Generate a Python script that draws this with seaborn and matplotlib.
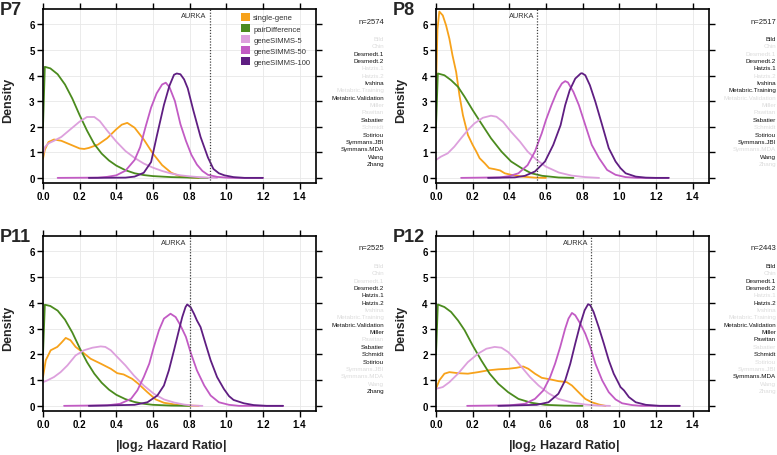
"""
Density of |log2 HR| per method, four panels (P7, P8, P11, P12)
"""
import pandas as pd
import matplotlib
matplotlib.use('Agg')
import matplotlib.pyplot as plt
import seaborn as sns
from matplotlib.patches import Patch

methods = ['single-gene', 'pairDifference', 'geneSIMMS-5', 'geneSIMMS-50', 'geneSIMMS-100']
method_colors = ['#F7A21B', '#4B8B1E', '#DDA0DD', '#C25BC4', '#5F1E82']

datasets = ['Bild', 'Chin', 'Desmedt.1', 'Desmedt.2', 'Hatzis.1', 'Hatzis.2', 'Ivshina',
            'Metabric.Training', 'Metabric.Validation', 'Miller', 'Pawitan', 'Sabatier',
            'Schmidt', 'Sotiriou', 'Symmans.JBI', 'Symmans.MDA', 'Wang', 'Zhang']

# --- P7 ---
p7_single = [(0, 0.75), (0.01, 1.1), (0.03, 1.4), (0.06, 1.5), (0.1, 1.45), (0.15, 1.3), (0.2, 1.15),
             (0.225, 1.13), (0.25, 1.17), (0.3, 1.3), (0.35, 1.55), (0.4, 1.9), (0.43, 2.08), (0.46, 2.15),
             (0.5, 1.96), (0.55, 1.5), (0.6, 0.95), (0.65, 0.5), (0.7, 0.2), (0.75, 0.06), (0.8, 0.02), (0.85, 0.0)]
p7_pair = [(0, 2.0), (0.01, 4.34), (0.04, 4.28), (0.08, 4.05), (0.12, 3.65), (0.16, 3.1), (0.2, 2.45),
           (0.24, 1.85), (0.28, 1.32), (0.32, 0.95), (0.36, 0.68), (0.4, 0.48), (0.45, 0.3), (0.5, 0.18),
           (0.55, 0.11), (0.6, 0.07), (0.7, 0.03), (0.8, 0.012), (0.9, 0.0)]
p7_simms5 = [(0, 0.9), (0.01, 1.2), (0.03, 1.35), (0.06, 1.45), (0.1, 1.6), (0.15, 1.9), (0.2, 2.2),
             (0.24, 2.38), (0.28, 2.38), (0.31, 2.22), (0.35, 1.85), (0.4, 1.42), (0.45, 1.05), (0.5, 0.78),
             (0.55, 0.56), (0.6, 0.4), (0.65, 0.27), (0.7, 0.17), (0.75, 0.1), (0.8, 0.06), (0.85, 0.03),
             (0.9, 0.01), (0.95, 0.0)]
p7_simms50 = [(0.08, 0), (0.3, 0.01), (0.35, 0.04), (0.4, 0.1), (0.45, 0.28), (0.5, 0.7), (0.53, 1.2),
              (0.56, 2.0), (0.59, 2.75), (0.62, 3.3), (0.65, 3.65), (0.67, 3.72), (0.69, 3.55), (0.72, 3.0),
              (0.75, 2.1), (0.78, 1.45), (0.81, 0.9), (0.84, 0.52), (0.87, 0.27), (0.9, 0.12), (0.95, 0.04),
              (1.0, 0.01), (1.05, 0), (1.2, 0.0)]
p7_simms100 = [(0.25, 0), (0.45, 0.01), (0.5, 0.05), (0.55, 0.2), (0.59, 0.62), (0.62, 1.6), (0.66, 2.85),
               (0.69, 3.6), (0.715, 4.03), (0.73, 4.08), (0.75, 4.05), (0.77, 3.85), (0.79, 3.5), (0.82, 2.65),
               (0.86, 1.6), (0.9, 0.8), (0.93, 0.35), (0.96, 0.18), (0.99, 0.1), (1.04, 0.03), (1.1, 0.0),
               (1.2, 0.0)]

# --- P8 ---
p8_single = [(0, 3.5), (0.008, 5.8), (0.018, 6.5), (0.037, 6.35), (0.055, 5.96), (0.073, 5.44), (0.09, 4.79),
             (0.11, 4.14), (0.128, 3.23), (0.147, 2.45), (0.174, 1.68), (0.2, 1.29), (0.22, 1.03), (0.238, 0.77),
             (0.266, 0.57), (0.29, 0.38), (0.32, 0.34), (0.35, 0.29), (0.375, 0.18), (0.41, 0.12), (0.47, 0.05),
             (0.54, 0.01), (0.6, 0.0)]
p8_pair = [(0, 2.0), (0.01, 4.08), (0.046, 4.01), (0.082, 3.82), (0.12, 3.56), (0.156, 3.17), (0.2, 2.65),
           (0.247, 2.13), (0.3, 1.55), (0.357, 1.03), (0.41, 0.64), (0.467, 0.38), (0.52, 0.18), (0.58, 0.08),
           (0.67, 0.015), (0.75, 0.0)]
p8_simms5 = [(0, 0.7), (0.027, 0.83), (0.064, 0.96), (0.1, 1.22), (0.137, 1.55), (0.174, 1.87), (0.21, 2.13),
             (0.256, 2.35), (0.3, 2.43), (0.33, 2.39), (0.366, 2.19), (0.41, 1.8), (0.458, 1.42), (0.5, 1.03),
             (0.55, 0.7), (0.6, 0.44), (0.67, 0.21), (0.74, 0.09), (0.815, 0.03), (0.89, 0.0)]
p8_simms50 = [(0.137, 0), (0.35, 0.02), (0.4, 0.07), (0.45, 0.18), (0.5, 0.5), (0.54, 1.03), (0.56, 1.42),
              (0.577, 1.74), (0.6, 2.26), (0.63, 2.84), (0.66, 3.36), (0.687, 3.69), (0.705, 3.78), (0.72, 3.73),
              (0.75, 3.36), (0.78, 2.84), (0.815, 2.06), (0.85, 1.29), (0.89, 0.77), (0.934, 0.31), (0.98, 0.12),
              (1.035, 0.03), (1.1, 0), (1.27, 0)]
p8_simms100 = [(0.284, 0), (0.43, 0.02), (0.485, 0.08), (0.54, 0.25), (0.595, 0.64), (0.64, 1.29), (0.68, 2.06),
               (0.705, 2.84), (0.73, 3.43), (0.76, 3.88), (0.79, 4.08), (0.797, 4.09), (0.815, 4.01), (0.84, 3.62),
               (0.87, 2.97), (0.907, 2.06), (0.943, 1.16), (0.98, 0.64), (1.007, 0.38), (1.035, 0.18),
               (1.09, 0.05), (1.145, 0.01), (1.2, 0), (1.27, 0)]

# --- P11 ---
p11_single = [(0, 1.12), (0.015, 1.77), (0.042, 2.16), (0.078, 2.29), (0.1, 2.45), (0.124, 2.64), (0.15, 2.55),
              (0.178, 2.29), (0.215, 2.09), (0.26, 1.83), (0.315, 1.64), (0.37, 1.44), (0.405, 1.27), (0.44, 1.22),
              (0.487, 1.05), (0.52, 0.86), (0.57, 0.53), (0.615, 0.25), (0.66, 0.12), (0.73, 0.04), (0.8, 0.01),
              (0.85, 0)]
p11_pair = [(0, 2.0), (0.01, 3.93), (0.04, 3.88), (0.08, 3.7), (0.12, 3.35), (0.16, 2.85), (0.2, 2.25),
            (0.24, 1.7), (0.28, 1.25), (0.32, 0.9), (0.36, 0.63), (0.4, 0.43), (0.45, 0.26), (0.5, 0.15),
            (0.55, 0.08), (0.6, 0.04), (0.7, 0.01), (0.8, 0)]
p11_simms5 = [(0, 0.92), (0.024, 0.99), (0.06, 1.12), (0.096, 1.31), (0.133, 1.57), (0.178, 1.96), (0.224, 2.16),
              (0.27, 2.26), (0.315, 2.31), (0.34, 2.29), (0.37, 2.16), (0.405, 1.9), (0.45, 1.57), (0.496, 1.18),
              (0.55, 0.79), (0.605, 0.47), (0.66, 0.25), (0.715, 0.13), (0.77, 0.05), (0.82, 0.01), (0.87, 0)]
p11_simms50 = [(0.115, 0), (0.35, 0.02), (0.42, 0.08), (0.48, 0.27), (0.515, 0.6), (0.55, 1.12), (0.58, 1.64),
               (0.605, 2.29), (0.633, 2.94), (0.66, 3.39), (0.696, 3.58), (0.724, 3.45), (0.75, 3.13), (0.78, 2.68),
               (0.805, 2.09), (0.84, 1.38), (0.88, 0.79), (0.915, 0.4), (0.96, 0.14), (1.015, 0.04), (1.07, 0),
               (1.31, 0)]
p11_simms100 = [(0.25, 0), (0.5, 0.04), (0.57, 0.14), (0.624, 0.4), (0.66, 0.79), (0.687, 1.38), (0.715, 2.16),
                (0.742, 2.94), (0.76, 3.45), (0.778, 3.84), (0.787, 3.94), (0.805, 3.84), (0.824, 3.58),
                (0.84, 3.32), (0.86, 3.06), (0.887, 2.42), (0.915, 1.77), (0.95, 1.12), (0.987, 0.66),
                (1.015, 0.38), (1.04, 0.23), (1.096, 0.1), (1.15, 0.03), (1.22, 0), (1.31, 0)]

# --- P12 ---
p12_single = [(0, 0.66), (0.018, 0.99), (0.046, 1.25), (0.073, 1.31), (0.12, 1.27), (0.174, 1.25), (0.23, 1.31),
              (0.284, 1.38), (0.34, 1.42), (0.394, 1.44), (0.44, 1.48), (0.476, 1.53), (0.504, 1.44), (0.54, 1.25),
              (0.577, 1.09), (0.623, 1.03), (0.668, 0.96), (0.714, 0.92), (0.742, 0.79), (0.778, 0.53),
              (0.815, 0.27), (0.85, 0.14), (0.89, 0.05), (0.925, 0)]
p12_pair = [(0, 2.0), (0.01, 3.94), (0.046, 3.84), (0.082, 3.65), (0.12, 3.32), (0.156, 2.94), (0.2, 2.35),
            (0.247, 1.77), (0.293, 1.25), (0.34, 0.86), (0.394, 0.53), (0.45, 0.27), (0.52, 0.12), (0.595, 0.04),
            (0.7, 0.01), (0.8, 0)]
p12_simms5 = [(0, 0.66), (0.037, 0.73), (0.073, 0.92), (0.12, 1.25), (0.174, 1.7), (0.23, 2.03), (0.275, 2.22),
              (0.32, 2.29), (0.357, 2.26), (0.394, 2.09), (0.43, 1.83), (0.467, 1.51), (0.513, 1.12), (0.56, 0.79),
              (0.614, 0.49), (0.668, 0.27), (0.742, 0.13), (0.815, 0.05), (0.89, 0.01), (0.95, 0)]
p12_simms50 = [(0.17, 0), (0.4, 0.02), (0.485, 0.08), (0.54, 0.27), (0.586, 0.6), (0.623, 1.12), (0.65, 1.64),
               (0.678, 2.29), (0.705, 3.0), (0.723, 3.39), (0.742, 3.61), (0.76, 3.52), (0.788, 3.19), (0.815, 2.8),
               (0.842, 2.29), (0.87, 1.64), (0.907, 0.99), (0.943, 0.53), (0.98, 0.25), (1.016, 0.1), (1.07, 0.03),
               (1.12, 0), (1.33, 0)]
p12_simms100 = [(0.34, 0), (0.55, 0.04), (0.614, 0.14), (0.668, 0.47), (0.705, 0.99), (0.733, 1.64), (0.76, 2.42),
                (0.788, 3.19), (0.811, 3.71), (0.83, 3.95), (0.842, 3.91), (0.86, 3.65), (0.888, 3.06),
                (0.916, 2.42), (0.943, 1.77), (0.97, 1.25), (0.998, 0.86), (1.007, 0.73), (1.026, 0.6),
                (1.053, 0.34), (1.09, 0.14), (1.145, 0.04), (1.22, 0), (1.33, 0)]

# AURKA reference and sample sizes
aurka = {'P7': 0.909, 'P8': 0.553, 'P11': 0.8, 'P12': 0.846}
n_pairs = {'P7': 2574, 'P8': 2517, 'P11': 2525, 'P12': 2443}

# datasets used per panel (others shown faded)
p7_used = ['Desmedt.1', 'Desmedt.2', 'Ivshina', 'Metabric.Validation', 'Sabatier', 'Sotiriou',
           'Symmans.JBI', 'Symmans.MDA', 'Wang', 'Zhang']
p8_used = ['Bild', 'Desmedt.2', 'Hatzis.1', 'Ivshina', 'Metabric.Training', 'Sabatier', 'Sotiriou',
           'Symmans.JBI', 'Wang']
p11_used = ['Desmedt.2', 'Hatzis.1', 'Hatzis.2', 'Metabric.Validation', 'Miller', 'Sabatier', 'Schmidt',
            'Sotiriou', 'Zhang']
p12_used = ['Bild', 'Desmedt.1', 'Desmedt.2', 'Hatzis.2', 'Metabric.Validation', 'Miller', 'Pawitan',
            'Schmidt', 'Symmans.MDA']

panels = [
    ('P7', [p7_single, p7_pair, p7_simms5, p7_simms50, p7_simms100], p7_used, (43, 10, 316, 184)),
    ('P8', [p8_single, p8_pair, p8_simms5, p8_simms50, p8_simms100], p8_used, (436, 10, 709, 184)),
    ('P11', [p11_single, p11_pair, p11_simms5, p11_simms50, p11_simms100], p11_used, (43, 237, 316, 412)),
    ('P12', [p12_single, p12_pair, p12_simms5, p12_simms50, p12_simms100], p12_used, (436, 237, 709, 412)),
]

sns.set_style('ticks')
plt.rcParams['font.family'] = ['Liberation Sans', 'DejaVu Sans']
plt.rcParams['mathtext.default'] = 'regular'

W, H = 777, 456
fig = plt.figure(figsize=(W / 100, H / 100), dpi=100)
palette = dict(zip(methods, method_colors))

for name, curves, used, (l, t, r, b) in panels:
    ax = fig.add_axes([l / W, 1 - b / H, (r - l) / W, (b - t) / H])

    rows = []
    for m, pts in zip(methods, curves):
        for x, y in pts:
            rows.append({'hr': x, 'density': y, 'method': m})
    df = pd.DataFrame(rows)

    ax.grid(True, color='#e8e8e8', lw=0.6)
    ax.set_axisbelow(True)
    sns.lineplot(data=df, x='hr', y='density', hue='method', hue_order=methods, palette=palette,
                 estimator=None, sort=False, lw=1.3, legend=False, ax=ax)

    # AURKA marker
    ax.axvline(aurka[name], color='#444444', ls=(0, (1, 1.3)), lw=0.9)
    ax.text(aurka[name] - 0.015, 6.36, 'AURKA', ha='right', va='center', fontsize=5.3, color='#333333')

    ax.set_xlim(0, 1.49)
    ax.set_ylim(-0.2, 6.6)
    ax.set_xticks([0, 0.2, 0.4, 0.6, 0.8, 1.0, 1.2, 1.4],
                  ['0.0', '0.2', '0.4', '0.6', '0.8', '1.0', '1.2', '1.4'], fontweight='bold')
    ax.set_yticks(range(7), [str(i) for i in range(7)], fontweight='bold')
    ax.tick_params(direction='out', length=4, width=1, top=True, right=True, labelsize=7, pad=2,
                   colors='black')
    for s in ax.spines.values():
        s.set_visible(True)
        s.set_color('black')
        s.set_linewidth(1.2)

    ax.set_ylabel('Density', fontsize=9, fontweight='bold')
    ax.yaxis.set_label_coords(-0.105, 0.48)
    if t > 200:
        ax.set_xlabel(r'|log$_2$ Hazard Ratio|', fontsize=9, fontweight='bold')
        ax.xaxis.set_label_coords(0.47, -0.195)
        ax.xaxis.label.set_va('center')
    else:
        ax.set_xlabel('')

    # panel tag
    fig.text((l - 43) / W, 1 - (t - 8) / H, name, fontsize=13, fontweight='bold', ha='left', va='top')

    # dataset column on the right
    rx = min(r + 68, 776) / W
    fig.text(rx, 1 - (t + 12) / H, f'n={n_pairs[name]}', fontsize=5.5, ha='right', va='center',
             color='#222222')
    for i, d in enumerate(datasets):
        fig.text(rx, 1 - (t + 29.5 + i * 7.35) / H, d, fontsize=4.5, ha='right', va='center',
                 color='#111111' if d in used else '#dcdcdc')

    if name == 'P7':
        handles = [Patch(facecolor=c, edgecolor='none', label=m) for m, c in zip(methods, method_colors)]
        leg = ax.legend(handles=handles, loc='upper left', bbox_to_anchor=((241 - l) / (r - l), 1 - 4 / (b - t)),
                        frameon=False, fontsize=5.5, handlelength=1.2, handleheight=1.2, handletextpad=0.4,
                        labelspacing=0.33, borderaxespad=0, borderpad=0)
        for txt in leg.get_texts():
            txt.set_color('#333333')

fig.savefig('out.png', dpi=100)
